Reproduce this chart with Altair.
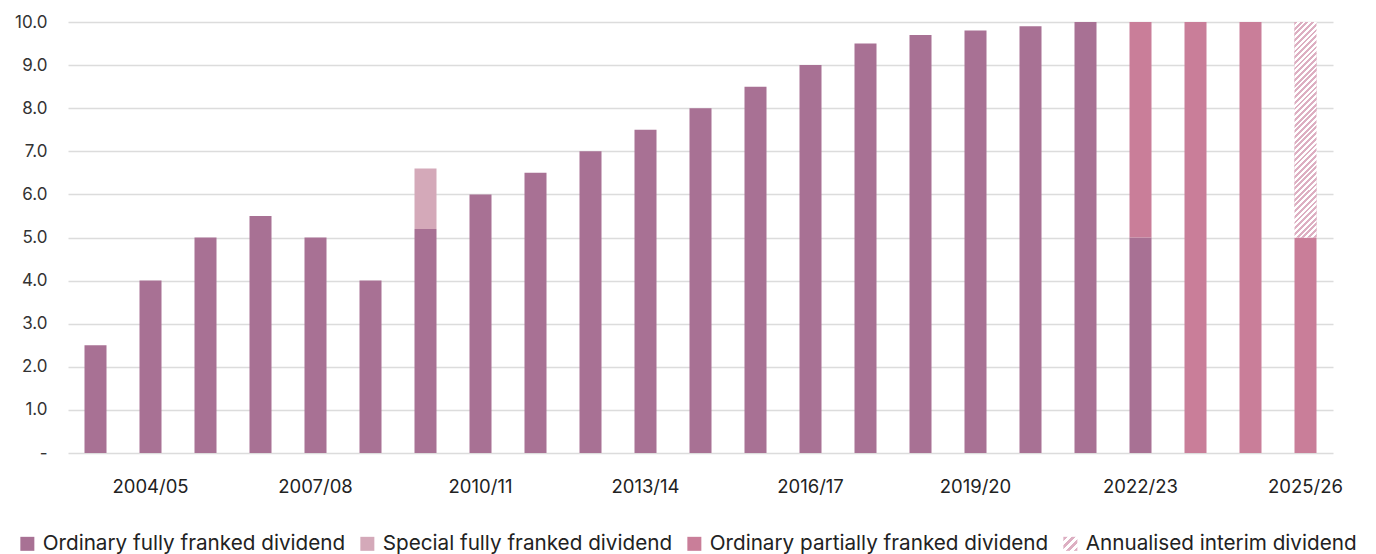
import altair as alt
import pandas as pd

years = ["2003/04", "2004/05", "2005/06", "2006/07", "2007/08", "2008/09", "2009/10",
         "2010/11", "2011/12", "2012/13", "2013/14", "2014/15", "2015/16", "2016/17",
         "2017/18", "2018/19", "2019/20", "2020/21", "2021/22", "2022/23", "2023/24",
         "2024/25", "2025/26"]
tick_labels = ["2004/05", "2007/08", "2010/11", "2013/14", "2016/17", "2019/20",
               "2022/23", "2025/26"]

series = ["Ordinary fully franked dividend", "Special fully franked dividend",
          "Ordinary partially franked dividend", "Annualised interim dividend"]

ordinary_full = [2.5, 4.0, 5.0, 5.5, 5.0, 4.0, 5.2, 6.0, 6.5, 7.0, 7.5, 8.0, 8.5, 9.0,
                 9.5, 9.7, 9.8, 9.9, 10.0, 5.0, 0, 0, 0]
special_full = [0, 0, 0, 0, 0, 0, 1.4, 0, 0, 0, 0, 0, 0, 0, 0, 0, 0, 0, 0, 0, 0, 0, 0]
ordinary_partial = [0, 0, 0, 0, 0, 0, 0, 0, 0, 0, 0, 0, 0, 0, 0, 0, 0, 0, 0, 5.0, 10.0,
                    10.0, 5.0]
annualised = [0, 0, 0, 0, 0, 0, 0, 0, 0, 0, 0, 0, 0, 0, 0, 0, 0, 0, 0, 0, 0, 0, 5.0]

y_ticks = [0, 1, 2, 3, 4, 5, 6, 7, 8, 9, 10]

C_FULL = "#A87194"
C_SPECIAL = "#D4A9B9"
C_PARTIAL = "#C97E99"
C_HATCH = "#DDAFC2"

rows = []
for i, yr in enumerate(years):
    base = 0.0
    for s, vals in zip(series, [ordinary_full, special_full, ordinary_partial, annualised]):
        v = vals[i]
        if v > 0:
            rows.append({"year": yr, "series": s, "y0": base, "y1": base + v})
            base += v
df = pd.DataFrame(rows)


def stripe_stops(n_bands, color):
    stops = []
    for i in range(n_bands):
        c = color if i % 2 == 0 else "#ffffff"
        stops.append({"offset": round(i / n_bands, 5), "color": c})
        stops.append({"offset": round((i + 1) / n_bands, 5), "color": c})
    return stops


def grad_expr(x2, y2, n_bands, color):
    parts = ["{offset:%s,color:'%s'}" % (s["offset"], s["color"]) for s in stripe_stops(n_bands, color)]
    return "{gradient:'linear',x1:0,y1:0,x2:%s,y2:%s,stops:[%s]}" % (x2, y2, ",".join(parts))


legend_grad = grad_expr(1, 1, 7, C_HATCH)
bar_grad = {"gradient": "linear", "x1": 0, "y1": 0, "x2": 0.1122, "y2": 1.1,
            "stops": stripe_stops(84, C_HATCH)}

FONT = "Inter"

x_enc = alt.X("year:N", sort=years, title=None,
              scale=alt.Scale(paddingInner=0.6, paddingOuter=0.3),
              axis=alt.Axis(values=tick_labels, labelAngle=0, domain=False, ticks=False,
                            labelPadding=24, labelFontSize=18.5, labelColor="#222222",
                            labelFont=FONT, grid=False))
y_enc = alt.Y("y0:Q", title=None, scale=alt.Scale(domain=[0, 10], nice=False),
              axis=alt.Axis(values=y_ticks, domain=False, ticks=False, grid=True,
                            gridColor="#dcdcdc", gridWidth=1.5, labelPadding=21,
                            labelFontSize=17, labelColor="#333333", labelFont=FONT,
                            labelExpr="datum.value == 0 ? '-' : format(datum.value, '.1f')"))

base = alt.Chart(df)

bars = base.mark_bar().encode(
    x=x_enc,
    y=y_enc,
    y2="y1:Q",
    fill=alt.Fill("series:N",
                  scale=alt.Scale(domain=series,
                                  range=[C_FULL, C_SPECIAL, C_PARTIAL, {"expr": legend_grad}]),
                  legend=alt.Legend(title=None, orient="none", legendX=-51, legendY=511,
                                    direction="horizontal", columns=4, symbolType="square",
                                    symbolSize=196, symbolStrokeWidth=0, labelFontSize=20.7,
                                    labelFont=FONT, labelColor="#222222", columnPadding=11,
                                    labelOffset=5, labelLimit=600)),
)

hatch = base.transform_filter(alt.datum.series == series[3]).mark_bar(fill=bar_grad).encode(
    x=x_enc, y=y_enc, y2="y1:Q"
)

chart = alt.layer(bars, hatch).properties(
    width=1265, height=431,
    autosize=alt.AutoSizeParams(type="none"),
    padding={"left": 60, "top": 14, "right": 35, "bottom": 101},
).configure_view(stroke=None)

chart.save("out.html", embed_options={"renderer": "svg", "actions": False})
